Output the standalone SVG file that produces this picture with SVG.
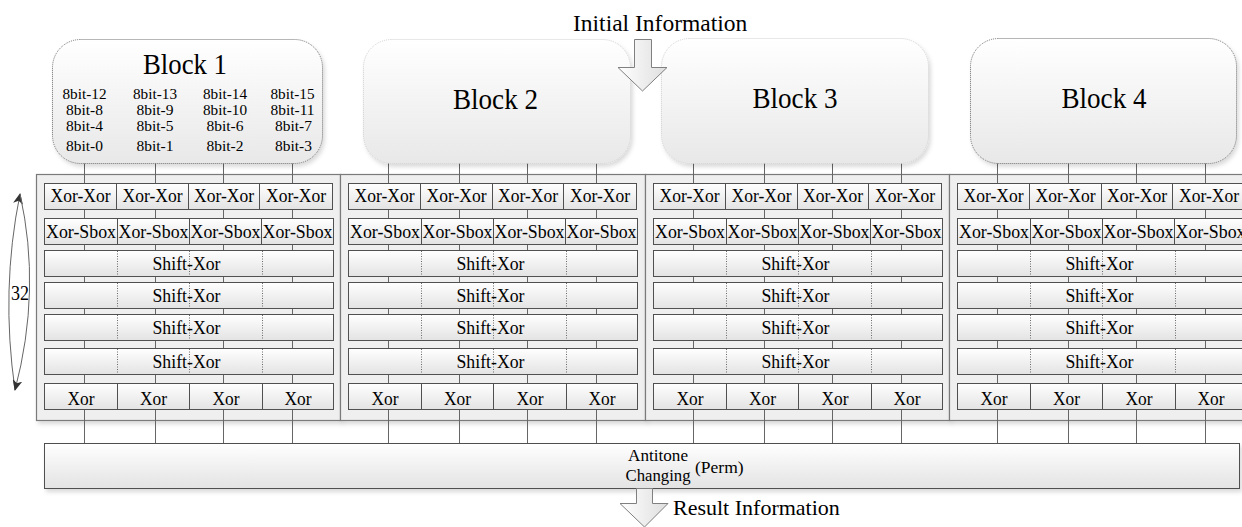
<svg xmlns="http://www.w3.org/2000/svg" width="1242" height="527" viewBox="0 0 1242 527">
<style>
.t{font-family:'Liberation Serif',serif;fill:#000}
.c{font-size:18.5px;text-anchor:middle}
.b8{font-size:15.5px;text-anchor:middle}
.ttl{font-size:30px;text-anchor:middle}
.box{fill:url(#rowg);stroke:#505050;stroke-width:1}
.panel{fill:#efefef;stroke:#7a7a7a;stroke-width:1.2}
.dot{stroke:#6a6a6a;stroke-width:1;stroke-dasharray:1 1.5}
.conn{stroke:#666;stroke-width:1;fill:none}
.blk{fill:url(#blkg);filter:url(#sh)}
.darkb{stroke:#707070;stroke-width:1;stroke-dasharray:1 1}
.lightb{stroke:#d0d0d0;stroke-width:1;stroke-dasharray:1 1}
.barrow{fill:url(#arrg);stroke:#808080;stroke-width:1}
</style>
<defs>
<linearGradient id="rowg" x1="0" y1="0" x2="0" y2="1">
<stop offset="0" stop-color="#ffffff"/><stop offset="1" stop-color="#e3e3e3"/>
</linearGradient>
<linearGradient id="blkg" x1="0" y1="0" x2="0" y2="1">
<stop offset="0" stop-color="#ffffff"/><stop offset="1" stop-color="#e8e8e8"/>
</linearGradient>
<linearGradient id="arrg" x1="0" y1="0" x2="1" y2="0">
<stop offset="0" stop-color="#ffffff"/><stop offset="1" stop-color="#dedede"/>
</linearGradient>
<filter id="sh" x="-5%" y="-5%" width="115%" height="120%">
<feDropShadow dx="2" dy="3" stdDeviation="2" flood-color="#000" flood-opacity="0.15"/>
</filter>
<marker id="ah" markerUnits="userSpaceOnUse" markerWidth="12" markerHeight="10" refX="10" refY="5" orient="auto">
<path d="M0,0 L11,5 L0,10 L3,5 z" fill="#333"/>
</marker>
</defs>

<!-- round containers -->
<g id="containers">
<rect class="panel" x="36.5" y="174.5" width="304" height="246" filter="url(#sh)"/>
<rect class="panel" x="340.5" y="174.5" width="305" height="246" filter="url(#sh)"/>
<rect class="panel" x="645.5" y="174.5" width="304" height="246" filter="url(#sh)"/>
<rect class="panel" x="949.5" y="174.5" width="310" height="246" filter="url(#sh)"/>
</g>

<!-- connectors -->
<g id="connectors">
<line class="conn" x1="84.5" y1="163" x2="84.5" y2="443.5"/>
<line class="conn" x1="155.5" y1="163" x2="155.5" y2="443.5"/>
<line class="conn" x1="223.5" y1="163" x2="223.5" y2="443.5"/>
<line class="conn" x1="292.5" y1="163" x2="292.5" y2="443.5"/>
<line class="conn" x1="388.5" y1="163" x2="388.5" y2="443.5" stroke="#888"/>
<line class="conn" x1="459.5" y1="163" x2="459.5" y2="443.5" stroke="#999"/>
<line class="conn" x1="527.5" y1="163" x2="527.5" y2="443.5" stroke="#888"/>
<line class="conn" x1="596.5" y1="163" x2="596.5" y2="443.5" stroke="#888"/>
<line class="conn" x1="693.5" y1="163" x2="693.5" y2="443.5" stroke="#888"/>
<line class="conn" x1="764.5" y1="163" x2="764.5" y2="443.5" stroke="#888"/>
<line class="conn" x1="832.5" y1="163" x2="832.5" y2="443.5" stroke="#888"/>
<line class="conn" x1="901.5" y1="163" x2="901.5" y2="443.5" stroke="#888"/>
<line class="conn" x1="997.5" y1="163" x2="997.5" y2="443.5"/>
<line class="conn" x1="1068.5" y1="163" x2="1068.5" y2="443.5"/>
<line class="conn" x1="1136.5" y1="163" x2="1136.5" y2="443.5"/>
<line class="conn" x1="1205.5" y1="163" x2="1205.5" y2="443.5"/>
<path class="conn" d="M15,390 Q0.5,290 20,194" stroke="#333" marker-end="url(#ah)"/>
<path class="conn" d="M20,194 Q41.5,290 15,390" stroke="#333" marker-end="url(#ah)"/>
</g>

<text class="t" x="20" y="300" style="font-size:20px;text-anchor:middle" textLength="18" lengthAdjust="spacingAndGlyphs">32</text>

<!-- block data nodes -->
<g id="block1">
<rect class="blk darkb" x="52.5" y="39.5" width="270" height="124" rx="28"/>
<text class="t ttl" x="185" y="74" textLength="84" lengthAdjust="spacingAndGlyphs">Block 1</text>
<text class="t b8" x="84.5" y="98.5" textLength="44" lengthAdjust="spacingAndGlyphs">8bit-12</text>
<text class="t b8" x="155" y="98.5" textLength="44" lengthAdjust="spacingAndGlyphs">8bit-13</text>
<text class="t b8" x="225" y="98.5" textLength="44" lengthAdjust="spacingAndGlyphs">8bit-14</text>
<text class="t b8" x="292.5" y="98.5" textLength="44" lengthAdjust="spacingAndGlyphs">8bit-15</text>
<text class="t b8" x="84.5" y="114.5" textLength="37" lengthAdjust="spacingAndGlyphs">8bit-8</text>
<text class="t b8" x="155" y="114.5" textLength="37" lengthAdjust="spacingAndGlyphs">8bit-9</text>
<text class="t b8" x="225" y="114.5" textLength="44" lengthAdjust="spacingAndGlyphs">8bit-10</text>
<text class="t b8" x="292.5" y="114.5" textLength="44" lengthAdjust="spacingAndGlyphs">8bit-11</text>
<text class="t b8" x="84.5" y="131" textLength="37" lengthAdjust="spacingAndGlyphs">8bit-4</text>
<text class="t b8" x="155" y="131" textLength="37" lengthAdjust="spacingAndGlyphs">8bit-5</text>
<text class="t b8" x="225" y="131" textLength="37" lengthAdjust="spacingAndGlyphs">8bit-6</text>
<text class="t b8" x="293.5" y="131" textLength="37" lengthAdjust="spacingAndGlyphs">8bit-7</text>
<text class="t b8" x="84.5" y="150.5" textLength="37" lengthAdjust="spacingAndGlyphs">8bit-0</text>
<text class="t b8" x="155" y="150.5" textLength="37" lengthAdjust="spacingAndGlyphs">8bit-1</text>
<text class="t b8" x="225" y="150.5" textLength="37" lengthAdjust="spacingAndGlyphs">8bit-2</text>
<text class="t b8" x="293.5" y="150.5" textLength="37" lengthAdjust="spacingAndGlyphs">8bit-3</text>
</g>
<g id="block2">
<rect class="blk lightb" x="363.5" y="39.5" width="267" height="124" rx="28"/>
<text class="t ttl" x="495.5" y="109" textLength="85" lengthAdjust="spacingAndGlyphs">Block 2</text>
</g>
<g id="block3">
<rect class="blk lightb" x="661.5" y="38.5" width="267" height="125" rx="28"/>
<text class="t ttl" x="795" y="108" textLength="85" lengthAdjust="spacingAndGlyphs">Block 3</text>
</g>
<g id="block4">
<rect class="blk darkb" x="970.5" y="38.5" width="266" height="125" rx="28"/>
<text class="t ttl" x="1104" y="108" textLength="85" lengthAdjust="spacingAndGlyphs">Block 4</text>
</g>

<!-- round stacks -->
<g id="rounds1" transform="translate(0,0)">
<rect class="box" x="44.5" y="183.5" width="72" height="26"/><rect class="box" x="116.5" y="183.5" width="72" height="26"/><rect class="box" x="188.5" y="183.5" width="71" height="26"/><rect class="box" x="259.5" y="183.5" width="73" height="26"/>
<text class="t c" x="80.5" y="202" textLength="60" lengthAdjust="spacingAndGlyphs">Xor-Xor</text><text class="t c" x="152.5" y="202" textLength="60" lengthAdjust="spacingAndGlyphs">Xor-Xor</text><text class="t c" x="224" y="202" textLength="60" lengthAdjust="spacingAndGlyphs">Xor-Xor</text><text class="t c" x="296" y="202" textLength="60" lengthAdjust="spacingAndGlyphs">Xor-Xor</text>
<rect class="box" x="44.5" y="218.5" width="73" height="26"/><rect class="box" x="117.5" y="218.5" width="72" height="26"/><rect class="box" x="189.5" y="218.5" width="72" height="26"/><rect class="box" x="261.5" y="218.5" width="72" height="26"/>
<text class="t c" x="81" y="237.5" textLength="70" lengthAdjust="spacingAndGlyphs">Xor-Sbox</text><text class="t c" x="153.5" y="237.5" textLength="70" lengthAdjust="spacingAndGlyphs">Xor-Sbox</text><text class="t c" x="225.5" y="237.5" textLength="70" lengthAdjust="spacingAndGlyphs">Xor-Sbox</text><text class="t c" x="297.5" y="237.5" textLength="70" lengthAdjust="spacingAndGlyphs">Xor-Sbox</text>
<rect class="box" x="44.5" y="250.5" width="289" height="26"/><rect class="box" x="44.5" y="282.5" width="289" height="26"/><rect class="box" x="44.5" y="314.5" width="289" height="26"/><rect class="box" x="44.5" y="348.5" width="289" height="26"/>
<path class="dot" d="M117.5,251V276M189.5,251V276M262.5,251V276M117.5,283V308M189.5,283V308M262.5,283V308M117.5,315V340M189.5,315V340M262.5,315V340M117.5,349V374M189.5,349V374M262.5,349V374"/>
<text class="t c" x="186.5" y="270" textLength="68" lengthAdjust="spacingAndGlyphs">Shift-Xor</text><text class="t c" x="186.5" y="302" textLength="68" lengthAdjust="spacingAndGlyphs">Shift-Xor</text><text class="t c" x="186.5" y="334" textLength="68" lengthAdjust="spacingAndGlyphs">Shift-Xor</text><text class="t c" x="186.5" y="368" textLength="68" lengthAdjust="spacingAndGlyphs">Shift-Xor</text>
<rect class="box" x="44.5" y="383.5" width="73" height="26"/><rect class="box" x="117.5" y="383.5" width="72" height="26"/><rect class="box" x="189.5" y="383.5" width="73" height="26"/><rect class="box" x="262.5" y="383.5" width="71" height="26"/>
<text class="t c" x="81" y="405" textLength="27" lengthAdjust="spacingAndGlyphs">Xor</text><text class="t c" x="153.5" y="405" textLength="27" lengthAdjust="spacingAndGlyphs">Xor</text><text class="t c" x="226" y="405" textLength="27" lengthAdjust="spacingAndGlyphs">Xor</text><text class="t c" x="298" y="405" textLength="27" lengthAdjust="spacingAndGlyphs">Xor</text>
</g>
<g id="rounds2" transform="translate(304,0)">
<rect class="box" x="44.5" y="183.5" width="72" height="26"/><rect class="box" x="116.5" y="183.5" width="72" height="26"/><rect class="box" x="188.5" y="183.5" width="71" height="26"/><rect class="box" x="259.5" y="183.5" width="73" height="26"/>
<text class="t c" x="80.5" y="202" textLength="60" lengthAdjust="spacingAndGlyphs">Xor-Xor</text><text class="t c" x="152.5" y="202" textLength="60" lengthAdjust="spacingAndGlyphs">Xor-Xor</text><text class="t c" x="224" y="202" textLength="60" lengthAdjust="spacingAndGlyphs">Xor-Xor</text><text class="t c" x="296" y="202" textLength="60" lengthAdjust="spacingAndGlyphs">Xor-Xor</text>
<rect class="box" x="44.5" y="218.5" width="73" height="26"/><rect class="box" x="117.5" y="218.5" width="72" height="26"/><rect class="box" x="189.5" y="218.5" width="72" height="26"/><rect class="box" x="261.5" y="218.5" width="72" height="26"/>
<text class="t c" x="81" y="237.5" textLength="70" lengthAdjust="spacingAndGlyphs">Xor-Sbox</text><text class="t c" x="153.5" y="237.5" textLength="70" lengthAdjust="spacingAndGlyphs">Xor-Sbox</text><text class="t c" x="225.5" y="237.5" textLength="70" lengthAdjust="spacingAndGlyphs">Xor-Sbox</text><text class="t c" x="297.5" y="237.5" textLength="70" lengthAdjust="spacingAndGlyphs">Xor-Sbox</text>
<rect class="box" x="44.5" y="250.5" width="289" height="26"/><rect class="box" x="44.5" y="282.5" width="289" height="26"/><rect class="box" x="44.5" y="314.5" width="289" height="26"/><rect class="box" x="44.5" y="348.5" width="289" height="26"/>
<path class="dot" d="M117.5,251V276M189.5,251V276M262.5,251V276M117.5,283V308M189.5,283V308M262.5,283V308M117.5,315V340M189.5,315V340M262.5,315V340M117.5,349V374M189.5,349V374M262.5,349V374"/>
<text class="t c" x="186.5" y="270" textLength="68" lengthAdjust="spacingAndGlyphs">Shift-Xor</text><text class="t c" x="186.5" y="302" textLength="68" lengthAdjust="spacingAndGlyphs">Shift-Xor</text><text class="t c" x="186.5" y="334" textLength="68" lengthAdjust="spacingAndGlyphs">Shift-Xor</text><text class="t c" x="186.5" y="368" textLength="68" lengthAdjust="spacingAndGlyphs">Shift-Xor</text>
<rect class="box" x="44.5" y="383.5" width="73" height="26"/><rect class="box" x="117.5" y="383.5" width="72" height="26"/><rect class="box" x="189.5" y="383.5" width="73" height="26"/><rect class="box" x="262.5" y="383.5" width="71" height="26"/>
<text class="t c" x="81" y="405" textLength="27" lengthAdjust="spacingAndGlyphs">Xor</text><text class="t c" x="153.5" y="405" textLength="27" lengthAdjust="spacingAndGlyphs">Xor</text><text class="t c" x="226" y="405" textLength="27" lengthAdjust="spacingAndGlyphs">Xor</text><text class="t c" x="298" y="405" textLength="27" lengthAdjust="spacingAndGlyphs">Xor</text>
</g>
<g id="rounds3" transform="translate(609,0)">
<rect class="box" x="44.5" y="183.5" width="72" height="26"/><rect class="box" x="116.5" y="183.5" width="72" height="26"/><rect class="box" x="188.5" y="183.5" width="71" height="26"/><rect class="box" x="259.5" y="183.5" width="73" height="26"/>
<text class="t c" x="80.5" y="202" textLength="60" lengthAdjust="spacingAndGlyphs">Xor-Xor</text><text class="t c" x="152.5" y="202" textLength="60" lengthAdjust="spacingAndGlyphs">Xor-Xor</text><text class="t c" x="224" y="202" textLength="60" lengthAdjust="spacingAndGlyphs">Xor-Xor</text><text class="t c" x="296" y="202" textLength="60" lengthAdjust="spacingAndGlyphs">Xor-Xor</text>
<rect class="box" x="44.5" y="218.5" width="73" height="26"/><rect class="box" x="117.5" y="218.5" width="72" height="26"/><rect class="box" x="189.5" y="218.5" width="72" height="26"/><rect class="box" x="261.5" y="218.5" width="72" height="26"/>
<text class="t c" x="81" y="237.5" textLength="70" lengthAdjust="spacingAndGlyphs">Xor-Sbox</text><text class="t c" x="153.5" y="237.5" textLength="70" lengthAdjust="spacingAndGlyphs">Xor-Sbox</text><text class="t c" x="225.5" y="237.5" textLength="70" lengthAdjust="spacingAndGlyphs">Xor-Sbox</text><text class="t c" x="297.5" y="237.5" textLength="70" lengthAdjust="spacingAndGlyphs">Xor-Sbox</text>
<rect class="box" x="44.5" y="250.5" width="289" height="26"/><rect class="box" x="44.5" y="282.5" width="289" height="26"/><rect class="box" x="44.5" y="314.5" width="289" height="26"/><rect class="box" x="44.5" y="348.5" width="289" height="26"/>
<path class="dot" d="M117.5,251V276M189.5,251V276M262.5,251V276M117.5,283V308M189.5,283V308M262.5,283V308M117.5,315V340M189.5,315V340M262.5,315V340M117.5,349V374M189.5,349V374M262.5,349V374"/>
<text class="t c" x="186.5" y="270" textLength="68" lengthAdjust="spacingAndGlyphs">Shift-Xor</text><text class="t c" x="186.5" y="302" textLength="68" lengthAdjust="spacingAndGlyphs">Shift-Xor</text><text class="t c" x="186.5" y="334" textLength="68" lengthAdjust="spacingAndGlyphs">Shift-Xor</text><text class="t c" x="186.5" y="368" textLength="68" lengthAdjust="spacingAndGlyphs">Shift-Xor</text>
<rect class="box" x="44.5" y="383.5" width="73" height="26"/><rect class="box" x="117.5" y="383.5" width="72" height="26"/><rect class="box" x="189.5" y="383.5" width="73" height="26"/><rect class="box" x="262.5" y="383.5" width="71" height="26"/>
<text class="t c" x="81" y="405" textLength="27" lengthAdjust="spacingAndGlyphs">Xor</text><text class="t c" x="153.5" y="405" textLength="27" lengthAdjust="spacingAndGlyphs">Xor</text><text class="t c" x="226" y="405" textLength="27" lengthAdjust="spacingAndGlyphs">Xor</text><text class="t c" x="298" y="405" textLength="27" lengthAdjust="spacingAndGlyphs">Xor</text>
</g>
<g id="rounds4" transform="translate(913,0)">
<rect class="box" x="44.5" y="183.5" width="72" height="26"/><rect class="box" x="116.5" y="183.5" width="72" height="26"/><rect class="box" x="188.5" y="183.5" width="71" height="26"/><rect class="box" x="259.5" y="183.5" width="73" height="26"/>
<text class="t c" x="80.5" y="202" textLength="60" lengthAdjust="spacingAndGlyphs">Xor-Xor</text><text class="t c" x="152.5" y="202" textLength="60" lengthAdjust="spacingAndGlyphs">Xor-Xor</text><text class="t c" x="224" y="202" textLength="60" lengthAdjust="spacingAndGlyphs">Xor-Xor</text><text class="t c" x="296" y="202" textLength="60" lengthAdjust="spacingAndGlyphs">Xor-Xor</text>
<rect class="box" x="44.5" y="218.5" width="73" height="26"/><rect class="box" x="117.5" y="218.5" width="72" height="26"/><rect class="box" x="189.5" y="218.5" width="72" height="26"/><rect class="box" x="261.5" y="218.5" width="72" height="26"/>
<text class="t c" x="81" y="237.5" textLength="70" lengthAdjust="spacingAndGlyphs">Xor-Sbox</text><text class="t c" x="153.5" y="237.5" textLength="70" lengthAdjust="spacingAndGlyphs">Xor-Sbox</text><text class="t c" x="225.5" y="237.5" textLength="70" lengthAdjust="spacingAndGlyphs">Xor-Sbox</text><text class="t c" x="297.5" y="237.5" textLength="70" lengthAdjust="spacingAndGlyphs">Xor-Sbox</text>
<rect class="box" x="44.5" y="250.5" width="289" height="26"/><rect class="box" x="44.5" y="282.5" width="289" height="26"/><rect class="box" x="44.5" y="314.5" width="289" height="26"/><rect class="box" x="44.5" y="348.5" width="289" height="26"/>
<path class="dot" d="M117.5,251V276M189.5,251V276M262.5,251V276M117.5,283V308M189.5,283V308M262.5,283V308M117.5,315V340M189.5,315V340M262.5,315V340M117.5,349V374M189.5,349V374M262.5,349V374"/>
<text class="t c" x="186.5" y="270" textLength="68" lengthAdjust="spacingAndGlyphs">Shift-Xor</text><text class="t c" x="186.5" y="302" textLength="68" lengthAdjust="spacingAndGlyphs">Shift-Xor</text><text class="t c" x="186.5" y="334" textLength="68" lengthAdjust="spacingAndGlyphs">Shift-Xor</text><text class="t c" x="186.5" y="368" textLength="68" lengthAdjust="spacingAndGlyphs">Shift-Xor</text>
<rect class="box" x="44.5" y="383.5" width="73" height="26"/><rect class="box" x="117.5" y="383.5" width="72" height="26"/><rect class="box" x="189.5" y="383.5" width="73" height="26"/><rect class="box" x="262.5" y="383.5" width="71" height="26"/>
<text class="t c" x="81" y="405" textLength="27" lengthAdjust="spacingAndGlyphs">Xor</text><text class="t c" x="153.5" y="405" textLength="27" lengthAdjust="spacingAndGlyphs">Xor</text><text class="t c" x="226" y="405" textLength="27" lengthAdjust="spacingAndGlyphs">Xor</text><text class="t c" x="298" y="405" textLength="27" lengthAdjust="spacingAndGlyphs">Xor</text>
</g>

<!-- permutation -->
<g id="perm">
<rect class="box" x="44.5" y="443.5" width="1195" height="45" filter="url(#sh)"/>
<text class="t" x="658" y="461" style="font-size:17.5px;text-anchor:middle" textLength="60" lengthAdjust="spacingAndGlyphs">Antitone</text>
<text class="t" x="658" y="481" style="font-size:17.5px;text-anchor:middle" textLength="65" lengthAdjust="spacingAndGlyphs">Changing</text>
<text class="t" x="695" y="473" style="font-size:17.5px">(Perm)</text>
</g>

<!-- input / output -->
<g id="initial">
<polygon class="barrow" points="634.5,39.5 651.5,39.5 651.5,67.5 667,67.5 642.5,91 618,67.5 634.5,67.5"/>
<text class="t" x="573" y="30.5" style="font-size:23.5px">Initial Information</text>
</g>
<g id="result">
<polygon class="barrow" points="636.5,488.5 652.5,488.5 652.5,503.5 668,503.5 644.5,527 620,503.5 636.5,503.5"/>
<text class="t" x="673" y="515" style="font-size:22px">Result Information</text>
</g>
</svg>
